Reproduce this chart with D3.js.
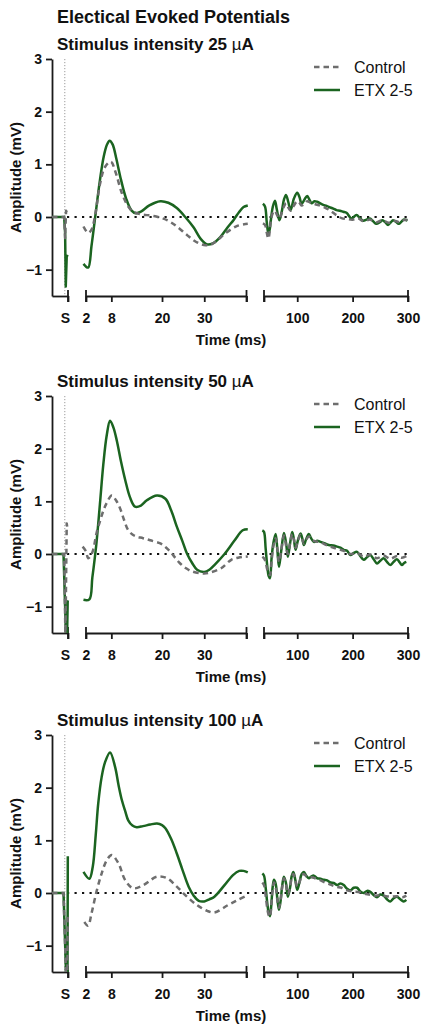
<!DOCTYPE html>
<html><head><meta charset="utf-8">
<script src="https://cdn.jsdelivr.net/npm/d3@7"></script>
<style>
body{margin:0;background:#fff}
svg{display:block}
text{font-family:"Liberation Sans",Arial,sans-serif;fill:#111}
</style>
</head><body><div id="chart"></div>
<script>
// ---------- labels / ticks ----------
const mainTitle = "Electical Evoked Potentials";
const intensities = ["25", "50", "100"];
const seriesNames = ["Control", "ETX 2-5"];
const yTickValues = [-1, 0, 1, 2, 3];
const segDomains = [[-2, 0.5], [2, 40], [40, 300]];
const seg1Ticks = [0.5], seg1Labels = ["S"];
const seg2Ticks = [2, 8, 20, 30, 40], seg2Labels = ["2", "8", "20", "30", ""];
const seg3Ticks = [40, 100, 200, 300], seg3Labels = ["", "100", "200", "300"];
const yLabel = "Amplitude (mV)", xLabel = "Time (ms)";

// ---------- data: [time ms, amplitude mV] ----------
// 25 uA
const p25_ctrl_s1 = [[-2,0],[-0.1,0],[0.05,-0.4],[0.2,0.12],[0.4,0.05]];
const p25_etx_s1  = [[-2,0],[-0.1,0],[0.05,-0.3],[0.15,-1.32],[0.3,-0.75],[0.45,-0.72]];
const p25_ctrl_s2 = [[1.4,-0.18],[2.5,-0.3],[3.3,-0.24],[4.2,0.05],[5.3,0.62],[6.5,0.95],[7.9,1.05],[9,0.85],[10.5,0.45],[12,0.2],[13.2,0.1],[15,0.05],[18,0.02],[21.2,-0.06],[23.5,-0.18],[25.9,-0.34],[28,-0.47],[29.9,-0.53],[31.4,-0.53],[33,-0.45],[35,-0.31],[37.8,-0.17],[40.3,-0.13]];
const p25_etx_s2  = [[1.4,-0.89],[2.5,-0.96],[3.3,-0.55],[4.1,-0.05],[5.3,0.7],[6.2,1.15],[7,1.38],[7.6,1.45],[8.3,1.38],[9.2,1.1],[10.1,0.77],[11.5,0.35],[12.8,0.12],[13.8,0.07],[15,0.1],[17,0.22],[19.6,0.3],[21.5,0.27],[23.5,0.17],[25.5,0],[27.5,-0.2],[29.2,-0.42],[30.7,-0.52],[32,-0.5],[33.8,-0.38],[35.5,-0.2],[37,-0.05],[38.3,0.1],[39.3,0.19],[40.3,0.22]];
const p25_ctrl_s3 = [[38,-0.12],[41.8,-0.15],[45,-0.3],[47.8,-0.41],[50,-0.3],[52,-0.1],[56,0.08],[59.8,0.12],[63,0.05],[67.7,-0.03],[72,0.08],[76,0.2],[80,0.26],[84,0.18],[88,0.12],[94,0.22],[100,0.3],[104,0.27],[108,0.22],[113,0.25],[118,0.3],[124,0.27],[130,0.25],[140,0.22],[150,0.18],[160,0.12],[170,0.04],[180,-0.02],[190,-0.04],[200,-0.05],[210,-0.03],[220,-0.08],[232,-0.05],[243,-0.1],[254,-0.06],[265,-0.11],[275,-0.07],[285,-0.1],[292,-0.06],[299,-0.05]];
const p25_etx_s3  = [[38,0.25],[41.8,0.2],[45,-0.1],[47.8,-0.31],[50,-0.25],[52,-0.09],[56,0.2],[59.8,0.31],[63,0.15],[67.7,-0.06],[72,0.1],[76,0.33],[79.7,0.42],[84,0.28],[88,0.13],[94,0.35],[100,0.46],[104,0.38],[108,0.25],[113,0.33],[118,0.4],[122,0.33],[126,0.26],[131,0.3],[136,0.29],[145,0.24],[153,0.21],[160,0.18],[165,0.16],[171,0.13],[177,0.12],[183,0.1],[189,0.08],[198,-0.03],[207,0.04],[213,-0.02],[219,-0.07],[225,-0.05],[231,-0.03],[237,-0.08],[243,-0.13],[249,-0.1],[254,-0.06],[259,-0.1],[264,-0.15],[269,-0.1],[273,-0.06],[279,-0.1],[284,-0.13],[288,-0.09],[292,-0.05],[299,-0.07]];
// 50 uA
const p50_ctrl_s1 = [[-2,0],[-0.1,0],[0.1,-1.6],[0.2,-0.5],[0.3,0.58],[0.45,0.45]];
const p50_etx_s1  = [[-2,0],[-0.2,0],[0.2,-1.6],[0.35,-1.6],[0.45,-0.9],[0.5,-0.88]];
const p50_ctrl_s2 = [[1.2,0.14],[2,0.05],[2.5,-0.08],[3,-0.05],[3.7,0.08],[4.5,0.4],[5.3,0.62],[6.1,0.82],[6.9,0.97],[8.1,1.11],[9.1,1.02],[10.1,0.86],[11,0.65],[12,0.45],[13,0.37],[14,0.33],[15.5,0.3],[17.2,0.26],[19.6,0.2],[21,0.12],[22,0.04],[23,-0.06],[24.3,-0.18],[25.7,-0.27],[27.1,-0.33],[29.9,-0.37],[31.5,-0.35],[34,-0.27],[36.4,-0.11],[38,-0.07],[39.5,-0.05],[40.3,-0.05]];
const p50_etx_s2  = [[1.4,-0.87],[2.8,-0.86],[3.5,-0.45],[4.4,0.15],[5.3,0.95],[6.1,1.7],[6.9,2.25],[7.7,2.53],[8.5,2.4],[9.3,2.15],[10.3,1.75],[11.3,1.4],[12.4,1.08],[13.6,0.9],[15,0.92],[16.4,1.02],[18.8,1.11],[20.8,1.05],[22.2,0.82],[23.5,0.52],[24.8,0.25],[25.9,0.01],[27.2,-0.18],[28.3,-0.3],[30,-0.34],[31.2,-0.3],[32.4,-0.21],[34.8,0],[37.2,0.26],[39.1,0.45],[40.3,0.47]];
const p50_ctrl_s3 = [[37,-0.05],[40,-0.08],[43,-0.15],[46,-0.3],[50.8,-0.4],[54,-0.1],[57,0.15],[61,0.3],[64,0.1],[67,-0.15],[71,0.05],[76,0.35],[80,0.15],[83,0],[87,0.2],[91,0.38],[94,0.28],[97,0.12],[101,0.25],[106,0.36],[109,0.28],[112,0.2],[116,0.27],[121,0.33],[125,0.29],[130,0.25],[142,0.22],[157,0.15],[172,0.1],[184,0.06],[196,0],[208,0.02],[220,-0.05],[232,-0.01],[244,-0.08],[256,-0.03],[268,-0.09],[280,-0.04],[289,-0.07],[297,-0.04]];
const p50_etx_s3  = [[37,0.45],[40,0.42],[43,0.1],[46,-0.24],[48.5,-0.42],[50.8,-0.46],[53.5,-0.1],[56.8,0.2],[61,0.38],[64,0.1],[67,-0.24],[71,0.05],[76,0.4],[80,0.2],[83,-0.05],[87,0.2],[91,0.42],[94,0.28],[97,0.08],[101,0.25],[106,0.39],[109,0.3],[112,0.17],[116,0.28],[121,0.38],[125,0.3],[130,0.23],[136,0.25],[142,0.23],[150,0.2],[157,0.17],[165,0.16],[172,0.14],[178,0.12],[184,0.08],[190,0.06],[196,-0.02],[202,0.02],[208,0.04],[214,-0.04],[220,-0.11],[226,-0.06],[232,-0.02],[238,-0.1],[244,-0.18],[250,-0.13],[256,-0.08],[262,-0.15],[268,-0.21],[274,-0.15],[280,-0.1],[285,-0.16],[289,-0.21],[293,-0.17],[297,-0.15]];
// 100 uA
const p100_ctrl_s1 = [[-2,0],[-0.2,0],[0.2,-1.6],[0.4,-1.6],[0.47,-0.38]];
const p100_etx_s1  = [[-2,0],[-0.2,0],[0.2,-1.55],[0.42,-1.55],[0.47,0.7]];
const p100_ctrl_s2 = [[1.6,-0.55],[2.5,-0.62],[3.3,-0.39],[4.5,0.03],[5.7,0.37],[6.9,0.62],[8.1,0.72],[9.7,0.56],[11.3,0.24],[13.2,0.09],[15.6,0.15],[18.8,0.31],[21.2,0.28],[23.5,0.12],[25.9,-0.07],[28.3,-0.23],[30.7,-0.34],[32.4,-0.37],[35.6,-0.23],[38,-0.13],[40.3,-0.04]];
const p100_etx_s2  = [[1.4,0.4],[2.8,0.27],[3.6,0.5],[4.3,1.1],[4.9,1.7],[5.7,2.2],[6.5,2.48],[7.7,2.67],[8.9,2.39],[9.7,2.05],[10.5,1.76],[11.3,1.55],[12,1.38],[13,1.28],[14,1.25],[15.5,1.27],[17.2,1.3],[18.8,1.32],[20,1.29],[20.8,1.23],[22.2,1.02],[23.5,0.75],[24.8,0.45],[26.3,0.12],[27.5,-0.05],[28.7,-0.15],[30,-0.16],[31.2,-0.12],[32.4,-0.07],[34.8,0.15],[36.8,0.34],[38.3,0.42],[39.3,0.42],[40.3,0.39]];
const p100_ctrl_s3 = [[37,0.2],[40,0.15],[43,-0.05],[46,-0.3],[48.5,-0.42],[50.8,-0.45],[53,-0.25],[55.5,0.05],[58,0.2],[61,0.12],[64,-0.12],[67,-0.28],[70,-0.12],[73,0.12],[76,0.28],[79.5,0.18],[83,-0.02],[87,0.1],[90,0.3],[93,0.36],[96.5,0.25],[100,0.12],[104,0.2],[108,0.33],[112,0.36],[116,0.32],[121,0.3],[126,0.3],[132,0.28],[140,0.25],[150,0.2],[160,0.16],[170,0.12],[180,0.1],[190,0.05],[200,0.03],[210,0.02],[220,-0.01],[230,-0.03],[240,-0.05],[250,-0.04],[260,-0.06],[270,-0.07],[280,-0.06],[290,-0.08],[297,-0.05]];
const p100_etx_s3  = [[37,0.37],[40,0.33],[43,0.1],[46,-0.2],[48.5,-0.38],[50.8,-0.44],[53,-0.25],[55.5,0.1],[58,0.25],[61,0.18],[64,-0.1],[67,-0.32],[70,-0.15],[73,0.15],[76,0.31],[79.5,0.2],[83,-0.07],[87,0.1],[90,0.32],[93,0.4],[96.5,0.25],[100,0.06],[104,0.2],[108,0.36],[112,0.4],[116,0.33],[121,0.28],[125,0.31],[130,0.33],[136,0.28],[142,0.27],[148,0.25],[154,0.24],[160,0.2],[166,0.19],[172,0.15],[178,0.18],[184,0.15],[190,0.08],[196,0.05],[202,0.1],[208,0.1],[214,0.03],[220,0],[226,0.04],[232,0.02],[238,-0.04],[244,-0.08],[250,-0.03],[256,-0.05],[262,-0.12],[268,-0.16],[274,-0.1],[280,-0.07],[286,-0.12],[292,-0.16],[297,-0.13]];

const panelData = [
  {ctrl:[p25_ctrl_s1,p25_ctrl_s2,p25_ctrl_s3], etx:[p25_etx_s1,p25_etx_s2,p25_etx_s3]},
  {ctrl:[p50_ctrl_s1,p50_ctrl_s2,p50_ctrl_s3], etx:[p50_etx_s1,p50_etx_s2,p50_etx_s3]},
  {ctrl:[p100_ctrl_s1,p100_ctrl_s2,p100_ctrl_s3], etx:[p100_etx_s1,p100_etx_s2,p100_etx_s3]}
];

// ---------- layout ----------
const W = 428, H = 1035;
const segRanges = [[52, 68], [86, 246.5], [264, 408]];
const panelTops = [59, 396, 735];
const plotH = 237;
const GREEN = "#1b6420", GRAY = "#6e6e6e", AXIS = "#1a1a1a";

const svg = d3.select("#chart").append("svg").attr("width", W).attr("height", H);

svg.append("text").attr("x", 57).attr("y", 23)
  .attr("font-size", 18).attr("font-weight", "bold").text(mainTitle);

panelData.forEach((pd, p) => {
  const top = panelTops[p], bottom = top + plotH;
  const y = d3.scaleLinear().domain([-1.5, 3]).range([bottom, top]);
  const xs = segDomains.map((d, i) => d3.scaleLinear().domain(d).range(segRanges[i]));
  const g = svg.append("g");

  // subtitle
  const st = g.append("text").attr("x", 57).attr("y", top - 9)
    .attr("font-size", 17).attr("font-weight", "bold");
  st.append("tspan").text("Stimulus intensity " + intensities[p] + " ");
  st.append("tspan").attr("font-weight", "normal").text("\u00b5");
  st.append("tspan").text("A");

  // clip
  const cid = "clip" + p;
  svg.append("clipPath").attr("id", cid).append("rect")
    .attr("x", 52).attr("y", top - 20).attr("width", 360).attr("height", plotH + 20);

  // stimulus dotted vertical line
  g.append("line").attr("x1", xs[0](0)).attr("x2", xs[0](0))
    .attr("y1", top).attr("y2", bottom)
    .attr("stroke", "#9a9a9a").attr("stroke-width", 1).attr("stroke-dasharray", "1.2 1.8");

  // zero dotted line
  g.append("line").attr("x1", segRanges[0][0]).attr("x2", segRanges[2][1])
    .attr("y1", y(0)).attr("y2", y(0))
    .attr("stroke", "#111").attr("stroke-width", 2).attr("stroke-dasharray", "2.2 5.3");

  // y axis
  const ya = g.append("g").attr("transform", `translate(${segRanges[0][0]},0)`)
    .call(d3.axisLeft(y).tickValues(yTickValues).tickSize(6).tickSizeOuter(0).tickPadding(4).tickFormat(d3.format("d")));
  ya.select(".domain").attr("stroke", AXIS).attr("stroke-width", 1.8);
  ya.selectAll(".tick line").attr("stroke", AXIS).attr("stroke-width", 1.8);
  ya.selectAll(".tick text").attr("font-size", 14).attr("font-weight", "bold")
    .attr("font-family", "Liberation Sans, Arial, sans-serif").attr("fill", "#111");

  // x axis segments
  const tickSets = [[seg1Ticks, seg1Labels], [seg2Ticks, seg2Labels], [seg3Ticks, seg3Labels]];
  xs.forEach((sc, i) => {
    const [tv, tl] = tickSets[i];
    const ax = g.append("g").attr("transform", `translate(0,${bottom})`)
      .call(d3.axisBottom(sc).tickValues(tv).tickSize(6).tickSizeOuter(0).tickPadding(11)
        .tickFormat((d, k) => tl[k]));
    ax.select(".domain").attr("stroke", AXIS).attr("stroke-width", 1.8);
    ax.selectAll(".tick line").attr("stroke", AXIS).attr("stroke-width", 1.8);
    ax.selectAll(".tick text").attr("font-size", 14).attr("font-weight", "bold")
      .attr("font-family", "Liberation Sans, Arial, sans-serif").attr("fill", "#111");
    if (i === 0) ax.selectAll(".tick text").attr("dx", -3);
    // break caps
    const caps = i === 0 ? [sc.range()[1]] : sc.range();
    caps.forEach(cx => {
      ax.append("line").attr("x1", cx).attr("x2", cx).attr("y1", -6).attr("y2", 6)
        .attr("stroke", AXIS).attr("stroke-width", 1.8);
    });
  });

  // series lines
  const lg = g.append("g").attr("clip-path", `url(#${cid})`);
  const drawSeries = (segs, color, dash) => {
    segs.forEach((data, i) => {
      const line = d3.line()
        .x(d => xs[i](d[0])).y(d => y(d[1]))
        .curve(i === 0 ? d3.curveLinear : d3.curveCatmullRom.alpha(0.5));
      lg.append("path").datum(data).attr("d", line)
        .attr("fill", "none").attr("stroke", color).attr("stroke-width", 2.5)
        .attr("stroke-linejoin", "round")
        .attr("stroke-dasharray", dash);
    });
  };
  drawSeries(pd.etx, GREEN, null);
  drawSeries(pd.ctrl, GRAY, "5.5 4");

  // legend
  const legY = [top + 8, top + 31];
  const legStyles = [[GRAY, "5.5 4"], [GREEN, null]];
  seriesNames.forEach((name, k) => {
    g.append("line").attr("x1", 314).attr("x2", 340).attr("y1", legY[k]).attr("y2", legY[k])
      .attr("stroke", legStyles[k][0]).attr("stroke-width", 2.5)
      .attr("stroke-dasharray", legStyles[k][1]);
    g.append("text").attr("x", 354).attr("y", legY[k]).attr("dy", "0.35em")
      .attr("font-size", 16).text(name);
  });

  // axis titles
  g.append("text").attr("transform", `translate(21,${(top + bottom) / 2}) rotate(-90)`)
    .attr("text-anchor", "middle").attr("font-size", 15).attr("font-weight", "bold").text(yLabel);
  g.append("text").attr("x", 231).attr("y", bottom + 49)
    .attr("text-anchor", "middle").attr("font-size", 15).attr("font-weight", "bold").text(xLabel);
});
</script>
</body></html>
